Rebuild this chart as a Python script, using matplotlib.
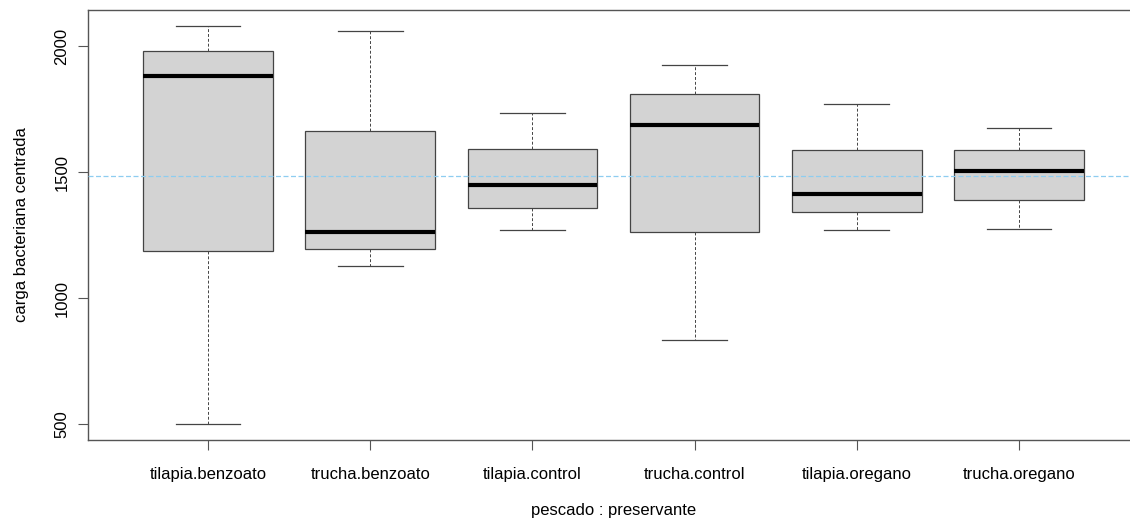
import matplotlib
matplotlib.use("Agg")
import matplotlib.pyplot as plt

categories = ["tilapia.benzoato", "trucha.benzoato", "tilapia.control",
              "trucha.control", "tilapia.oregano", "trucha.oregano"]
whisker_low = [500, 1128, 1271, 833, 1271, 1274]
q1 = [1189, 1196, 1359, 1262, 1344, 1390]
median = [1881, 1262, 1448, 1689, 1415, 1504]
q3 = [1980, 1662, 1593, 1810, 1589, 1589]
whisker_high = [2081, 2062, 1734, 1927, 1769, 1674]
reference_line = 1486
y_ticks = [500, 1000, 1500, 2000]

plt.rcParams['font.family'] = ['Liberation Sans', 'DejaVu Sans']

fig = plt.figure(figsize=(11.30, 5.24), dpi=100)
ax = fig.add_axes([88/1130, 1 - 440/524, (1139-88)/1130, (440-10)/524])

stats = []
for i, c in enumerate(categories):
    stats.append(dict(label=c, whislo=whisker_low[i], q1=q1[i], med=median[i],
                      q3=q3[i], whishi=whisker_high[i], fliers=[]))

positions = list(range(1, len(categories) + 1))
line_col = "#444444"
res = ax.bxp(stats, positions=positions, widths=0.8, patch_artist=True, showfliers=False,
             boxprops=dict(facecolor="#d3d3d3", edgecolor=line_col, linewidth=0.9),
             medianprops=dict(color="black", linewidth=3, solid_capstyle="butt"),
             whiskerprops=dict(color=line_col, linewidth=0.7, linestyle=(0, (3, 2))),
             capprops=dict(color=line_col, linewidth=0.9),
             capwidths=0.4, zorder=2)
ax.axhline(reference_line, color="#8ecdf0", linestyle=(0, (4, 2)), linewidth=0.9, zorder=3)
for m in res["medians"]:
    m.set_zorder(4)

lo, hi = min(whisker_low), max(whisker_high)
pad = (hi - lo) * 0.04
ax.set_ylim(lo - pad, hi + pad)
ax.set_xlim(0.26, len(categories) + 0.74)

ax.set_yticks(y_ticks)
ax.set_yticklabels([str(v) for v in y_ticks], rotation=90, va="center", fontsize=12)
ax.set_xticks(positions)
ax.set_xticklabels(categories, fontsize=12)
ax.tick_params(axis="both", direction="out", length=7.5, width=0.8, color="#555555", pad=6)
ax.tick_params(axis="x", pad=12)
for s in ax.spines.values():
    s.set_color("#555555")
    s.set_linewidth(1.0)

ax.set_ylabel("carga bacteriana centrada", fontsize=12, labelpad=18)
ax.set_xlabel("pescado : preservante", fontsize=12, labelpad=15)

fig.savefig("out.png", dpi=100)
